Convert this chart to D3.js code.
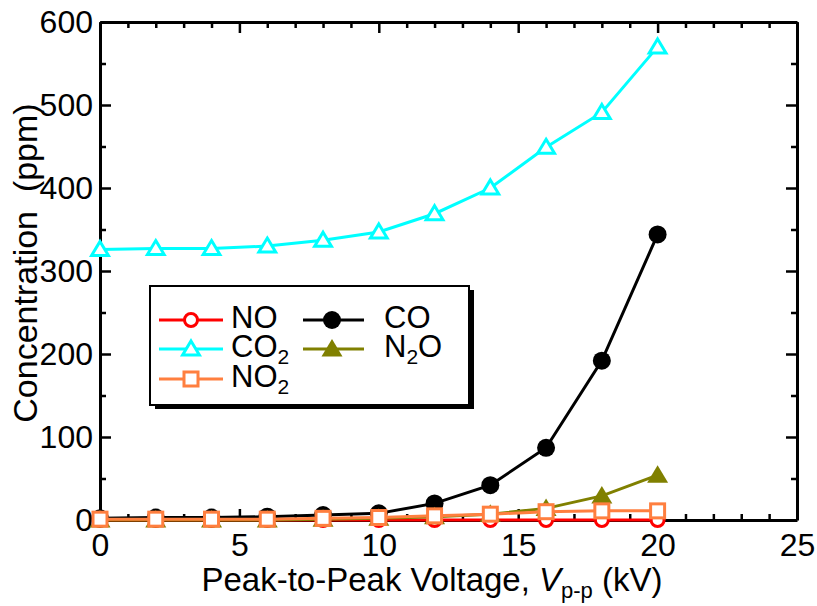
<!DOCTYPE html>
<html>
<head>
<meta charset="utf-8">
<script src="https://cdn.jsdelivr.net/npm/d3@7"></script>
<style>
  html, body { margin: 0; padding: 0; background: #fff; }
  svg { display: block; font-family: "Liberation Sans", Arial, sans-serif; }
</style>
</head>
<body>
<svg id="chart" width="817" height="606"></svg>
<script>
// ---- data ----
const voltage = [0, 2, 4, 6, 8, 10, 12, 14, 16, 18, 20];
const NO   = [0, 0, 0, 0, 0, 0, 0, 0, 0, 0, 0];
const CO2  = [326, 327, 327, 330, 337, 347, 369, 400, 449, 491, 570];
const NO2  = [1, 1, 1, 1, 2, 3, 5, 7, 10, 11, 11];
const CO   = [2, 3, 3, 4, 6, 8, 20, 42, 87, 192, 344];
const N2O  = [0, 0, 0, 0, 1, 2, 4, 7, 14, 29, 54];
const xMajorTicks = [0, 5, 10, 15, 20, 25];
const yMajorTicks = [0, 100, 200, 300, 400, 500, 600];

const svg = d3.select("#chart");
const L = 100, R = 797, T = 22, B = 520;
const x = d3.scaleLinear().domain([0, 25]).range([L, R]);
const y = d3.scaleLinear().domain([0, 600]).range([B, T]);

const xMinor = d3.range(0, 26, 1).filter(v => v % 5 !== 0);
const yMinor = d3.range(50, 600, 100);

function styleAxis(g) {
  g.select(".domain").attr("stroke", "#000").attr("stroke-width", 3);
  g.selectAll(".tick line").attr("stroke", "#000").attr("stroke-width", 2.5);
  g.selectAll(".tick text").attr("fill", "#000").style("font-size", "32px")
    .style("font-family", "'Liberation Sans', Arial, sans-serif");
}

// minor ticks
svg.append("g").attr("transform", `translate(0,${B})`)
  .call(d3.axisBottom(x).tickValues(xMinor).tickSize(-6).tickSizeOuter(0).tickFormat(""))
  .call(styleAxis).select(".domain").remove();
svg.append("g").attr("transform", `translate(0,${T})`)
  .call(d3.axisTop(x).tickValues(xMinor).tickSize(-6).tickSizeOuter(0).tickFormat(""))
  .call(styleAxis).select(".domain").remove();
svg.append("g").attr("transform", `translate(${L},0)`)
  .call(d3.axisLeft(y).tickValues(yMinor).tickSize(-6).tickSizeOuter(0).tickFormat(""))
  .call(styleAxis).select(".domain").remove();
svg.append("g").attr("transform", `translate(${R},0)`)
  .call(d3.axisRight(y).tickValues(yMinor).tickSize(-6).tickSizeOuter(0).tickFormat(""))
  .call(styleAxis).select(".domain").remove();

// major axes
svg.append("g").attr("transform", `translate(0,${B})`)
  .call(d3.axisBottom(x).tickValues(xMajorTicks).tickSize(-11).tickSizeOuter(0).tickPadding(13).tickFormat(d3.format("d")))
  .call(styleAxis);
svg.append("g").attr("transform", `translate(0,${T})`)
  .call(d3.axisTop(x).tickValues(xMajorTicks).tickSize(-11).tickSizeOuter(0).tickFormat(""))
  .call(styleAxis);
svg.append("g").attr("transform", `translate(${L},0)`)
  .call(d3.axisLeft(y).tickValues(yMajorTicks).tickSize(-11).tickSizeOuter(0).tickPadding(7).tickFormat(d3.format("d")))
  .call(styleAxis);
svg.append("g").attr("transform", `translate(${R},0)`)
  .call(d3.axisRight(y).tickValues(yMajorTicks).tickSize(-11).tickSizeOuter(0).tickFormat(""))
  .call(styleAxis);

// ---- series ----
const series = [
  { name: "NO",  vals: NO,  color: "#ff0000", shape: "circle",   fill: "#fff" },
  { name: "CO",  vals: CO,  color: "#000000", shape: "circle",   fill: "#000" },
  { name: "N2O", vals: N2O, color: "#808000", shape: "triangle", fill: "#808000" },
  { name: "CO2", vals: CO2, color: "#00ffff", shape: "triangle", fill: "#fff" },
  { name: "NO2", vals: NO2, color: "#ff7f3f", shape: "square",   fill: "#fff" }
];

function drawMarker(g, s, cx, cy) {
  const filled = s.fill !== "#fff";
  if (s.shape === "circle") {
    g.append("circle").attr("cx", cx).attr("cy", cy).attr("r", filled ? 9 : 6.5)
      .attr("fill", s.fill).attr("stroke", s.color).attr("stroke-width", filled ? 0 : 3);
  } else if (s.shape === "triangle") {
    const h = filled ? 10 : 8;
    const pts = [[cx, cy - h], [cx + h * 1.05, cy + h * 0.75], [cx - h * 1.05, cy + h * 0.75]];
    g.append("polygon").attr("points", pts.map(p => p.join(",")).join(" "))
      .attr("fill", s.fill).attr("stroke", s.color).attr("stroke-width", filled ? 0 : 3)
      .attr("stroke-linejoin", "miter");
  } else if (s.shape === "square") {
    g.append("rect").attr("x", cx - 7).attr("y", cy - 7).attr("width", 14).attr("height", 14)
      .attr("fill", s.fill).attr("stroke", s.color).attr("stroke-width", 3);
  }
}

const line = d3.line().x(d => x(d[0])).y(d => y(d[1]));
series.forEach(s => {
  const g = svg.append("g");
  const pts = voltage.map((v, i) => [v, s.vals[i]]);
  g.append("path").attr("d", line(pts)).attr("fill", "none")
    .attr("stroke", s.color).attr("stroke-width", 3);
  pts.forEach(p => drawMarker(g, s, x(p[0]), y(p[1])));
});

// ---- legend ----
const lg = svg.append("g");
lg.append("rect").attr("x", 155).attr("y", 290).attr("width", 319).attr("height", 119).attr("fill", "#000");
lg.append("rect").attr("x", 150).attr("y", 286).attr("width", 319).attr("height", 119)
  .attr("fill", "#fff").attr("stroke", "#000").attr("stroke-width", 2);

const legendItems = [
  { s: series[0], label: "NO",  sub: "",  after: "",  x0: 159, x1: 223, mx: 191, tx: 231, y: 320 },
  { s: series[3], label: "CO",  sub: "2", after: "",  x0: 159, x1: 223, mx: 191, tx: 231, y: 349 },
  { s: series[4], label: "NO",  sub: "2", after: "",  x0: 159, x1: 223, mx: 191, tx: 231, y: 379 },
  { s: series[1], label: "CO",  sub: "",  after: "",  x0: 303, x1: 364, mx: 332, tx: 384, y: 320 },
  { s: series[2], label: "N",   sub: "2", after: "O", x0: 303, x1: 364, mx: 332, tx: 384, y: 349 }
];
legendItems.forEach(it => {
  lg.append("line").attr("x1", it.x0).attr("x2", it.x1).attr("y1", it.y).attr("y2", it.y)
    .attr("stroke", it.s.color).attr("stroke-width", 3);
  drawMarker(lg, it.s, it.mx, it.y);
  const t = lg.append("text").attr("x", it.tx).attr("y", it.y + 8).style("font-size", "31px").attr("fill", "#000");
  t.append("tspan").text(it.label);
  if (it.sub) t.append("tspan").attr("dy", 7).style("font-size", "21px").text(it.sub);
  if (it.after) t.append("tspan").attr("dy", -7).text(it.after);
});

// ---- axis titles ----
const xt = svg.append("text").attr("x", 432).attr("y", 591).attr("text-anchor", "middle")
  .style("font-size", "33px").attr("fill", "#000");
xt.append("tspan").text("Peak-to-Peak Voltage, ");
xt.append("tspan").style("font-style", "italic").text("V");
xt.append("tspan").attr("dy", 7).style("font-size", "22px").text("p-p");
xt.append("tspan").attr("dy", -7).text(" (kV)");

svg.append("text").attr("transform", "translate(37,263) rotate(-90)").attr("text-anchor", "middle")
  .style("font-size", "34px").attr("fill", "#000")
  .text("Concentration\u00a0\u00a0(ppm)");
</script>
</body>
</html>
